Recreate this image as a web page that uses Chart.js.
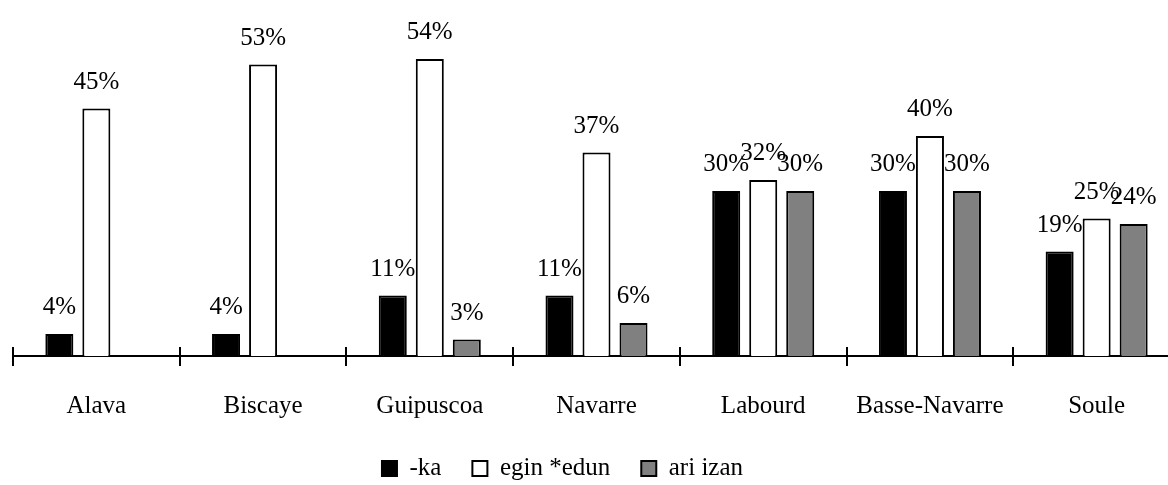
<!DOCTYPE html>
<html>
<head>
<meta charset="utf-8">
<script src="https://cdn.jsdelivr.net/npm/chart.js@4/dist/chart.umd.min.js"></script>
<style>
  html, body { margin: 0; padding: 0; background: #fff; overflow: hidden; }
  #wrap { width: 1190px; height: 485px; }
</style>
</head>
<body>
<div id="wrap"><canvas id="chart" width="1190" height="485"></canvas></div>
<script>
const regions = ["Alava", "Biscaye", "Guipuscoa", "Navarre", "Labourd", "Basse-Navarre", "Soule"];
const kaValues = [4, 4, 11, 11, 30, 30, 19];
const eginValues = [45, 53, 54, 37, 32, 40, 25];
const ariValues = [null, null, 3, 6, 30, 30, 24];

const SERIF = "'Times New Roman', 'Liberation Serif', serif";

// value labels above each bar
const valueLabels = {
  id: "valueLabels",
  afterDatasetsDraw(chart) {
    const ctx = chart.ctx;
    ctx.save();
    ctx.font = "25px " + SERIF;
    ctx.fillStyle = "#000";
    ctx.textAlign = "center";
    ctx.textBaseline = "alphabetic";
    chart.data.datasets.forEach((ds, i) => {
      chart.getDatasetMeta(i).data.forEach((bar, j) => {
        if (ds.data[j] == null) return;
        ctx.fillText(ds.data[j] + "%", bar.x, bar.y - 20);
      });
    });
    ctx.restore();
  }
};

// tick marks crossing the axis at category boundaries
const crossTicks = {
  id: "crossTicks",
  afterDraw(chart) {
    const xs = chart.scales.x;
    const ctx = chart.ctx;
    const step = xs.width / regions.length;
    const y = xs.top;
    ctx.save();
    ctx.strokeStyle = "#000";
    ctx.lineWidth = 2;
    for (let i = 0; i <= regions.length; i++) {
      const px = Math.round(xs.left + i * step);
      ctx.beginPath();
      ctx.moveTo(px, y - 9);
      ctx.lineTo(px, y + 10);
      ctx.stroke();
    }
    ctx.restore();
  }
};

// move legend to where it sits in the original
const legendShift = {
  id: "legendShift",
  afterLayout(chart) {
    chart.legend.left -= 34;
    chart.legend.right -= 34;
  }
};

new Chart(document.getElementById("chart"), {
  type: "bar",
  data: {
    labels: regions,
    datasets: [
      { label: "-ka", data: kaValues, backgroundColor: "#000000", borderColor: "#000000", borderWidth: 2 },
      { label: "egin *edun", data: eginValues, backgroundColor: "#ffffff", borderColor: "#000000", borderWidth: 2 },
      { label: "ari izan", data: ariValues, backgroundColor: "#808080", borderColor: "#000000", borderWidth: 2 },
    ],
  },
  options: {
    responsive: false,
    devicePixelRatio: 1,
    animation: false,
    categoryPercentage: 0.666,
    barPercentage: 0.757,
    layout: { padding: { left: 13, right: 10, top: 26, bottom: 0 } },
    plugins: {
      tooltip: { enabled: false },
      legend: {
        position: "bottom",
        maxHeight: 60,
        labels: {
          color: "#000",
          font: { family: SERIF, size: 25 },
          boxWidth: 15,
          boxHeight: 15,
          padding: 31,
        },
      },
    },
    scales: {
      x: {
        grid: { display: false },
        border: { display: true, color: "#000", width: 2 },
        ticks: { color: "#000", font: { family: SERIF, size: 25 }, padding: 27, maxRotation: 0 },
        afterFit(scale) { scale.height = 69; },
      },
      y: { display: false, min: 0, max: 60 },
    },
  },
  plugins: [valueLabels, crossTicks, legendShift],
});
</script>
</body>
</html>
